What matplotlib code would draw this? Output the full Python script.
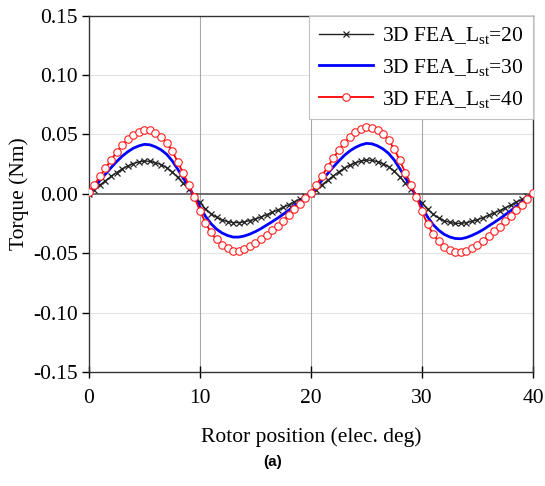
import numpy as np
import matplotlib
matplotlib.use("Agg")
import matplotlib.pyplot as plt

plt.rcParams['font.family'] = ['Liberation Serif', 'DejaVu Serif']
plt.rcParams['mathtext.fontset'] = 'custom'
plt.rcParams['mathtext.rm'] = 'Liberation Serif'
plt.rcParams['mathtext.it'] = 'Liberation Serif:italic'

# rotor position, 0 .. 40 elec. deg in 0.5 steps
pos = np.arange(0, 40.01, 0.5)

t_20 = [0.0000, 0.0036, 0.0075, 0.0111, 0.0147, 0.0180, 0.0211, 0.0235, 0.0255, 0.0269,
        0.0277, 0.0274, 0.0263, 0.0247, 0.0222, 0.0186, 0.0139, 0.0089, 0.0039, -0.0014,
        -0.0072, -0.0125, -0.0166, -0.0197, -0.0219, -0.0233, -0.0241, -0.0241, -0.0235, -0.0224,
        -0.0211, -0.0194, -0.0175, -0.0155, -0.0136, -0.0114, -0.0091, -0.0066, -0.0044, -0.0019,
        0.0003, 0.0037, 0.0077, 0.0114, 0.0151, 0.0185, 0.0217, 0.0242, 0.0262, 0.0276,
        0.0285, 0.0282, 0.0271, 0.0254, 0.0228, 0.0191, 0.0143, 0.0091, 0.0040, -0.0014,
        -0.0074, -0.0128, -0.0171, -0.0202, -0.0225, -0.0239, -0.0248, -0.0248, -0.0242, -0.0231,
        -0.0217, -0.0200, -0.0180, -0.0160, -0.0140, -0.0117, -0.0094, -0.0068, -0.0046, -0.0020,
        0.0003]

t_30 = [0.0000, 0.0054, 0.0113, 0.0167, 0.0221, 0.0271, 0.0317, 0.0354, 0.0384, 0.0404,
        0.0417, 0.0413, 0.0396, 0.0371, 0.0334, 0.0279, 0.0209, 0.0133, 0.0058, -0.0021,
        -0.0108, -0.0188, -0.0250, -0.0296, -0.0329, -0.0350, -0.0363, -0.0363, -0.0354, -0.0338,
        -0.0317, -0.0292, -0.0263, -0.0234, -0.0204, -0.0171, -0.0138, -0.0100, -0.0067, -0.0029,
        0.0004, 0.0055, 0.0115, 0.0170, 0.0225, 0.0276, 0.0323, 0.0361, 0.0391, 0.0412,
        0.0425, 0.0421, 0.0404, 0.0378, 0.0340, 0.0285, 0.0213, 0.0136, 0.0060, -0.0021,
        -0.0111, -0.0193, -0.0258, -0.0305, -0.0340, -0.0362, -0.0375, -0.0377, -0.0367, -0.0349,
        -0.0327, -0.0301, -0.0270, -0.0240, -0.0209, -0.0175, -0.0141, -0.0103, -0.0069, -0.0030,
        0.0004]

t_40 = [0.0020, 0.0075, 0.0150, 0.0216, 0.0286, 0.0351, 0.0410, 0.0459, 0.0497, 0.0524,
        0.0540, 0.0535, 0.0513, 0.0481, 0.0432, 0.0362, 0.0270, 0.0173, 0.0076, -0.0027,
        -0.0140, -0.0243, -0.0324, -0.0383, -0.0427, -0.0454, -0.0476, -0.0478, -0.0465, -0.0441,
        -0.0414, -0.0382, -0.0344, -0.0306, -0.0268, -0.0224, -0.0180, -0.0131, -0.0087, -0.0038,
        0.0010, 0.0078, 0.0152, 0.0226, 0.0299, 0.0367, 0.0429, 0.0479, 0.0519, 0.0547,
        0.0564, 0.0558, 0.0536, 0.0502, 0.0451, 0.0378, 0.0282, 0.0180, 0.0079, -0.0028,
        -0.0147, -0.0254, -0.0338, -0.0400, -0.0446, -0.0474, -0.0489, -0.0489, -0.0478, -0.0457,
        -0.0428, -0.0395, -0.0355, -0.0316, -0.0276, -0.0231, -0.0186, -0.0135, -0.0090, -0.0039,
        0.0010]

labels = [r'3D FEA_L$_{\mathrm{st}}$=20', r'3D FEA_L$_{\mathrm{st}}$=30', r'3D FEA_L$_{\mathrm{st}}$=40']

fig = plt.figure(figsize=(5.45, 4.86), dpi=100)
ax = fig.add_axes([0.163, 0.234, 0.815, 0.734])

# grid: light horizontal lines, gray verticals, darker zero line
for yv in [-0.10, -0.05, 0.05, 0.10]:
    ax.axhline(yv, color='#e4e4e4', lw=0.8, zorder=0)
for xv in [10, 20, 30]:
    ax.axvline(xv, color='#a8a8a8', lw=0.8, zorder=0)
ax.axhline(0, color='#555555', lw=1.2, zorder=1)

ax.plot(pos, t_20, color='#222222', lw=1.0, marker='x', ms=4.5, mew=0.9, label=labels[0], zorder=3)
ax.plot(pos, t_30, color='#0000ff', lw=2.0, label=labels[1], zorder=4)
ax.plot(pos, t_40, color='#ff0000', lw=1.3, marker='o', ms=5.4, mfc='white', mec='#ff2020',
        mew=0.8, label=labels[2], zorder=5)

ax.set_xlim(0, 40)
ax.set_ylim(-0.15, 0.15)
ax.set_xticks([0, 10, 20, 30, 40])
ax.set_yticks([-0.15, -0.10, -0.05, 0.00, 0.05, 0.10, 0.15])
ax.set_yticklabels(['-0.15', '-0.10', '-0.05', '0.00', '0.05', '0.10', '0.15'])
ax.tick_params(axis='x', direction='inout', length=8, width=1, labelsize=15.5, pad=8)
ax.tick_params(axis='y', direction='out', length=5, width=1, labelsize=15.5, pad=3)
for sp in ax.spines.values():
    sp.set_color('#333333')
    sp.set_linewidth(1.0)

ax.set_xlabel('Rotor position (elec. deg)', fontsize=15.5, labelpad=14)
ax.set_ylabel('Torque (Nm)', fontsize=15.5, labelpad=3)

leg = ax.legend(loc='upper right', bbox_to_anchor=(1.0, 1.0), borderaxespad=0, fontsize=15.5,
                frameon=True, fancybox=False, framealpha=1, edgecolor='#c0c0c0',
                handlelength=2.5, handletextpad=0.4, labelspacing=0.5, borderpad=0.45)
leg.get_frame().set_linewidth(0.8)
leg.set_zorder(10)

fig.text(0.5, 0.049, '(a)', ha='center', va='center', fontsize=11, fontweight='bold',
         family='Liberation Sans')

fig.savefig('out.png', dpi=100)
